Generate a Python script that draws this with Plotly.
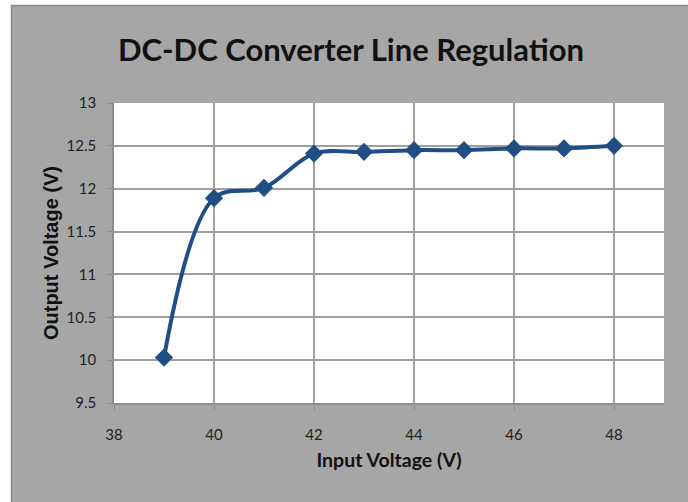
import plotly.graph_objects as go

input_voltage = [39, 40, 41, 42, 43, 44, 45, 46, 47, 48]
output_voltage = [10.03, 11.89, 12.01, 12.41, 12.43, 12.45, 12.45, 12.47, 12.47, 12.50]

x_ticks = [38, 40, 42, 44, 46, 48]
y_ticks = [9.5, 10, 10.5, 11, 11.5, 12, 12.5, 13]

L, R, T, B = 114, 24, 103, 99
W, H = 688, 502
pw, ph = W - L - R, H - T - B

def px(x):
    return (x - L) / pw

def py(y):
    return (H - B - y) / ph

fig = go.Figure()
fig.add_trace(go.Scatter(
    x=input_voltage, y=output_voltage, mode="lines+markers",
    line=dict(color="#1f4e85", width=4, shape="spline", smoothing=1.0),
    marker=dict(symbol="diamond", size=14, color="#1f4e85"),
    showlegend=False,
))

fig.update_layout(
    width=W, height=H,
    paper_bgcolor="#a6a6a6",
    plot_bgcolor="white",
    margin=dict(l=L, r=R, t=T, b=B),
    title=dict(text="<b>DC-DC Converter Line Regulation</b>", x=351 / W, xanchor="center",
               y=1 - 50 / H, yanchor="middle",
               font=dict(family="Lato, Open Sans, Arial", size=31, color="#111111")),
    xaxis=dict(range=[38, 49], tickvals=x_ticks, ticktext=[str(v) for v in x_ticks],
               showgrid=True, gridcolor="#a0a0a0", gridwidth=1.5,
               ticks="outside", ticklen=5, tickcolor="#8c8c8c",
               showline=True, linecolor="#8c8c8c", linewidth=1.5, zeroline=False,
               ticklabelstandoff=12,
               tickfont=dict(family="Lato, Arial", size=15, color="#222222"),
               title=dict(text="<b>Input Voltage (V)</b>", standoff=12,
                          font=dict(family="Lato, Arial", size=19.5, color="#111111"))),
    yaxis=dict(range=[9.5, 13], tickvals=y_ticks, ticktext=[f"{v:g}" for v in y_ticks],
               showgrid=True, gridcolor="#a0a0a0", gridwidth=1.5,
               ticks="outside", ticklen=5, tickcolor="#8c8c8c",
               showline=True, linecolor="#8c8c8c", linewidth=1.5, zeroline=False,
               ticklabelstandoff=8,
               tickfont=dict(family="Lato, Arial", size=15, color="#222222"),
               title=dict(text="<b>Output Voltage (V)</b>", standoff=3,
                          font=dict(family="Liberation Sans, Arial", size=20, color="#111111"))),
    shapes=[
        dict(type="rect", xref="paper", yref="paper", x0=px(-5), x1=px(W + 5), y0=py(0) + 0.05, y1=py(5),
             fillcolor="white", line=dict(width=0), layer="above"),
        dict(type="rect", xref="paper", yref="paper", x0=px(-5), x1=px(11), y0=py(H + 5), y1=py(0) + 0.05,
             fillcolor="white", line=dict(width=0), layer="above"),
        dict(type="line", xref="paper", yref="paper", x0=px(11), x1=px(W + 5), y0=py(5.5), y1=py(5.5),
             line=dict(color="#888888", width=1.5), layer="above"),
        dict(type="line", xref="paper", yref="paper", x0=px(11.5), x1=px(11.5), y0=py(5), y1=py(H + 5),
             line=dict(color="#888888", width=1.5), layer="above"),
    ],
)

fig.write_html(
    "out.html",
    config={"displayModeBar": False},
    post_script="document.body.style.margin='0';document.body.style.overflow='hidden';",
)
